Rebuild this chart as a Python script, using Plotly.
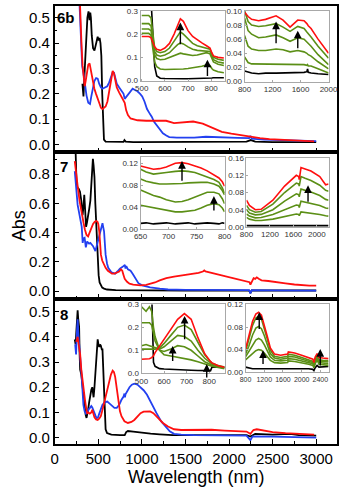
import plotly.graph_objects as go

W, H = 349, 496
def fx(p): return p / W
def fy(p): return 1 - p / H

BLACK = '#000000'; RED = '#ff0f0f'; BLUE = '#2340f0'; GREEN = '#5b8f16'

# ================= Panel 6b (top) main =================
wl_6b_k = [318, 330, 345, 360, 375, 388, 395, 400, 408, 415, 425, 440, 456, 470, 485, 493, 505, 515, 525, 535, 545, 555, 565, 584, 700, 790, 800, 815, 900, 1000, 1500, 2000, 2200, 2250, 2300, 2500, 3000]
ab_6b_k = [0.24, 0.19, 0.30, 0.42, 0.50, 0.525, 0.51, 0.49, 0.52, 0.50, 0.43, 0.38, 0.37, 0.39, 0.42, 0.425, 0.41, 0.42, 0.40, 0.35, 0.20, 0.06, 0.02, 0.012, 0.01, 0.011, 0.018, 0.012, 0.01, 0.01, 0.012, 0.012, 0.012, 0.018, 0.012, 0.01, 0.01]
wl_6b_r = [285, 295, 308, 320, 335, 344, 355, 370, 385, 400, 410, 420, 438, 455, 474, 490, 510, 530, 548, 565, 584, 605, 625, 645, 665, 680, 695, 712, 740, 766, 790, 803, 820, 840, 870, 894, 950, 1050, 1150, 1278, 1369, 1478, 1588, 1698, 1807, 1917, 2026, 2136, 2245, 2355, 2464, 2647, 2800, 2976]
ab_6b_r = [0.60, 0.48, 0.39, 0.31, 0.25, 0.23, 0.25, 0.29, 0.315, 0.32, 0.30, 0.28, 0.26, 0.22, 0.20, 0.18, 0.165, 0.145, 0.14, 0.145, 0.15, 0.17, 0.21, 0.26, 0.29, 0.28, 0.255, 0.225, 0.205, 0.19, 0.175, 0.165, 0.135, 0.116, 0.103, 0.10, 0.096, 0.094, 0.094, 0.094, 0.085, 0.087, 0.091, 0.083, 0.066, 0.05, 0.043, 0.037, 0.03, 0.026, 0.022, 0.019, 0.016, 0.013]
wl_6b_b = [285, 300, 315, 329, 345, 365, 385, 405, 420, 438, 455, 475, 493, 510, 530, 548, 575, 603, 625, 645, 665, 680, 695, 712, 740, 766, 790, 803, 815, 840, 870, 894, 920, 949, 980, 1004, 1030, 1059, 1085, 1113, 1140, 1168, 1205, 1241, 1280, 1314, 1400, 1600, 1734, 1900, 2100, 2230, 2245, 2260, 2400, 2600, 2800, 3000]
ab_6b_b = [0.55, 0.40, 0.31, 0.283, 0.24, 0.193, 0.165, 0.16, 0.19, 0.22, 0.25, 0.262, 0.26, 0.24, 0.225, 0.22, 0.225, 0.23, 0.245, 0.265, 0.285, 0.283, 0.265, 0.24, 0.225, 0.21, 0.2, 0.18, 0.185, 0.2, 0.21, 0.22, 0.215, 0.21, 0.2, 0.19, 0.17, 0.14, 0.125, 0.11, 0.09, 0.077, 0.06, 0.045, 0.036, 0.03, 0.028, 0.028, 0.031, 0.028, 0.027, 0.026, 0.034, 0.024, 0.02, 0.018, 0.016, 0.014]

# ================= Panel 7 (middle) main =================
wl_7_k = [226, 240, 250, 260, 275, 290, 305, 312, 320, 330, 339, 345, 352, 360, 370, 383, 395, 409, 420, 430, 438, 446, 456, 466, 474, 480, 485, 495, 504, 515, 529, 545, 566, 600, 700, 1000, 1500, 2000, 2230, 2245, 2260, 2500, 3000]
ab_7_k = [0.99, 0.95, 0.75, 0.71, 0.70, 0.68, 0.62, 0.55, 0.52, 0.58, 0.66, 0.60, 0.47, 0.44, 0.47, 0.51, 0.56, 0.62, 0.75, 0.86, 0.905, 0.86, 0.78, 0.60, 0.50, 0.38, 0.31, 0.20, 0.11, 0.06, 0.04, 0.025, 0.018, 0.012, 0.008, 0.006, 0.005, 0.005, 0.004, -0.012, 0.006, 0.005, 0.005]
wl_7_r = [230, 245, 263, 285, 300, 315, 330, 347, 365, 383, 400, 420, 440, 460, 475, 490, 500, 511, 520, 530, 545, 560, 584, 610, 630, 657, 685, 712, 740, 760, 775, 790, 803, 830, 858, 900, 985, 1050, 1095, 1150, 1205, 1280, 1369, 1450, 1552, 1650, 1700, 1716, 1730, 1800, 1917, 2000, 2100, 2200, 2235, 2245, 2258, 2282, 2300, 2318, 2340, 2373, 2450, 2501, 2580, 2647, 2750, 2830, 2920, 3000]
ab_7_r = [0.89, 0.80, 0.72, 0.62, 0.56, 0.52, 0.47, 0.42, 0.385, 0.375, 0.40, 0.43, 0.46, 0.475, 0.48, 0.475, 0.46, 0.41, 0.33, 0.25, 0.21, 0.19, 0.16, 0.14, 0.13, 0.12, 0.12, 0.125, 0.135, 0.15, 0.14, 0.11, 0.085, 0.065, 0.052, 0.045, 0.04, 0.043, 0.05, 0.06, 0.074, 0.09, 0.10, 0.106, 0.114, 0.125, 0.135, 0.142, 0.135, 0.125, 0.107, 0.097, 0.085, 0.07, 0.062, 0.045, 0.06, 0.09, 0.085, 0.095, 0.085, 0.075, 0.07, 0.065, 0.06, 0.054, 0.046, 0.04, 0.038, 0.038]
wl_7_b = [230, 245, 263, 285, 300, 310, 321, 329, 343, 357, 372, 394, 409, 438, 467, 493, 511, 529, 548, 556, 566, 575, 584, 600, 614, 650, 694, 720, 748, 775, 796, 805, 812, 821, 840, 870, 894, 912, 931, 960, 1004, 1050, 1095, 1205, 1300, 1500, 2000, 2230, 2245, 2260, 2500, 3000]
ab_7_b = [0.82, 0.72, 0.59, 0.52, 0.48, 0.44, 0.33, 0.36, 0.365, 0.30, 0.34, 0.325, 0.33, 0.31, 0.275, 0.33, 0.37, 0.42, 0.465, 0.44, 0.41, 0.33, 0.25, 0.19, 0.16, 0.13, 0.12, 0.135, 0.155, 0.165, 0.172, 0.18, 0.155, 0.172, 0.15, 0.14, 0.12, 0.10, 0.077, 0.055, 0.04, 0.033, 0.027, 0.018, 0.012, 0.009, 0.008, 0.007, -0.015, 0.007, 0.006, 0.004]

# ================= Panel 8 (bottom) main =================
wl_8_k = [230, 240, 248, 256, 263, 270, 280, 286, 292, 305, 318, 329, 340, 355, 365, 375, 383, 395, 409, 420, 431, 440, 446, 456, 467, 480, 493, 502, 511, 520, 529, 540, 548, 556, 566, 575, 584, 600, 650, 750, 803, 820, 840, 900, 985, 1100, 1205, 1350, 1600, 2000, 2200, 2245, 2300, 2500, 2700, 2800, 3000]
ab_8_k = [0.39, 0.37, 0.42, 0.48, 0.505, 0.47, 0.44, 0.33, 0.27, 0.25, 0.20, 0.16, 0.13, 0.09, 0.078, 0.09, 0.11, 0.14, 0.18, 0.19, 0.20, 0.18, 0.16, 0.20, 0.25, 0.32, 0.39, 0.37, 0.36, 0.37, 0.365, 0.35, 0.35, 0.28, 0.20, 0.10, 0.033, 0.018, 0.012, 0.01, 0.01, 0.022, 0.026, 0.024, 0.02, 0.016, 0.013, 0.01, 0.01, 0.01, 0.01, 0.004, 0.015, 0.012, 0.015, 0.01, 0.008]
wl_8_r = [248, 263, 275, 292, 305, 321, 335, 347, 360, 372, 385, 402, 420, 431, 440, 456, 475, 493, 510, 529, 548, 566, 590, 621, 645, 665, 680, 694, 712, 730, 748, 766, 800, 840, 880, 913, 950, 985, 1020, 1059, 1095, 1132, 1180, 1241, 1300, 1369, 1450, 1550, 1650, 1734, 1800, 1950, 2099, 2200, 2245, 2280, 2318, 2400, 2500, 2647, 2800, 2976]
ab_8_r = [0.38, 0.40, 0.37, 0.33, 0.27, 0.214, 0.17, 0.15, 0.12, 0.095, 0.10, 0.095, 0.10, 0.11, 0.10, 0.08, 0.072, 0.07, 0.075, 0.085, 0.11, 0.136, 0.17, 0.214, 0.25, 0.266, 0.26, 0.24, 0.19, 0.136, 0.105, 0.085, 0.065, 0.058, 0.062, 0.07, 0.085, 0.097, 0.103, 0.105, 0.104, 0.097, 0.08, 0.058, 0.044, 0.033, 0.03, 0.03, 0.031, 0.033, 0.031, 0.028, 0.026, 0.024, 0.015, 0.03, 0.033, 0.028, 0.022, 0.018, 0.014, 0.012]
wl_8_b = [235, 245, 255, 263, 270, 280, 292, 310, 320, 329, 343, 358, 370, 383, 396, 409, 420, 431, 445, 456, 470, 482, 496, 511, 530, 548, 575, 603, 630, 657, 685, 712, 740, 766, 790, 800, 806, 812, 830, 858, 885, 913, 950, 985, 1020, 1059, 1100, 1140, 1168, 1220, 1278, 1320, 1369, 1450, 1600, 1800, 2000, 2200, 2245, 2270, 2500, 2700, 2800, 3000]
ab_8_b = [0.37, 0.33, 0.42, 0.47, 0.42, 0.36, 0.32, 0.24, 0.17, 0.13, 0.105, 0.095, 0.10, 0.11, 0.115, 0.12, 0.125, 0.12, 0.105, 0.095, 0.085, 0.077, 0.08, 0.095, 0.115, 0.13, 0.14, 0.143, 0.135, 0.125, 0.118, 0.118, 0.13, 0.15, 0.163, 0.175, 0.16, 0.172, 0.185, 0.20, 0.21, 0.214, 0.21, 0.20, 0.188, 0.17, 0.14, 0.115, 0.097, 0.065, 0.039, 0.025, 0.015, 0.012, 0.01, 0.01, 0.008, 0.008, -0.01, 0.005, 0.004, 0.003, 0.0, 0.0]

# ================= Inset 6b-A (500-860 nm) =================
wl_6a = [500, 530, 540, 548, 556, 565, 580, 600, 620, 640, 655, 667, 680, 700, 720, 740, 760, 780, 795, 803, 810, 830, 855]
i6a_k = [0.40, 0.40, 0.35, 0.20, 0.06, 0.02, 0.01, 0.009, 0.008, 0.008, 0.008, 0.008, 0.008, 0.008, 0.008, 0.008, 0.009, 0.010, 0.010, 0.011, 0.012, 0.012, 0.012]
i6a_r = [0.19, 0.19, 0.185, 0.165, 0.145, 0.135, 0.13, 0.14, 0.16, 0.20, 0.24, 0.266, 0.255, 0.215, 0.19, 0.175, 0.162, 0.15, 0.14, 0.12, 0.106, 0.10, 0.097]
i6a_g1 = [0.28, 0.28, 0.27, 0.20, 0.14, 0.125, 0.12, 0.125, 0.14, 0.17, 0.195, 0.21, 0.20, 0.18, 0.16, 0.15, 0.145, 0.14, 0.135, 0.115, 0.10, 0.092, 0.087]
i6a_g2 = [0.245, 0.245, 0.235, 0.18, 0.125, 0.11, 0.105, 0.11, 0.12, 0.14, 0.155, 0.162, 0.158, 0.145, 0.135, 0.13, 0.128, 0.128, 0.125, 0.105, 0.09, 0.08, 0.075]
i6a_g3 = [0.222, 0.222, 0.215, 0.16, 0.11, 0.095, 0.09, 0.092, 0.10, 0.11, 0.115, 0.118, 0.115, 0.11, 0.108, 0.11, 0.115, 0.12, 0.115, 0.095, 0.08, 0.07, 0.065]
i6a_g4 = [0.203, 0.203, 0.195, 0.14, 0.08, 0.06, 0.05, 0.048, 0.048, 0.048, 0.048, 0.048, 0.05, 0.052, 0.055, 0.058, 0.062, 0.068, 0.065, 0.052, 0.045, 0.038, 0.034]

# ================= Inset 6b-B (800-2000 nm) =================
wl_6b = [800, 850, 900, 1000, 1100, 1250, 1350, 1450, 1560, 1650, 1690, 1700, 1710, 1750, 1850, 2000]
i6b_k = [0.015, 0.013, 0.012, 0.011, 0.012, 0.012, 0.012, 0.012, 0.012, 0.013, 0.014, 0.018, 0.013, 0.012, 0.011, 0.01]
i6b_r = [0.098, 0.092, 0.088, 0.086, 0.088, 0.093, 0.087, 0.077, 0.087, 0.086, 0.082, 0.08, 0.079, 0.075, 0.06, 0.04]
i6b_g1 = [0.10, 0.085, 0.080, 0.078, 0.079, 0.082, 0.077, 0.071, 0.078, 0.075, 0.07, 0.069, 0.068, 0.063, 0.05, 0.033]
i6b_g2 = [0.09, 0.072, 0.067, 0.062, 0.063, 0.066, 0.062, 0.057, 0.062, 0.06, 0.056, 0.055, 0.054, 0.05, 0.038, 0.024]
i6b_g3 = [0.065, 0.05, 0.046, 0.044, 0.044, 0.046, 0.045, 0.042, 0.044, 0.042, 0.04, 0.039, 0.038, 0.036, 0.028, 0.018]
i6b_g4 = [0.035, 0.027, 0.025, 0.025, 0.025, 0.025, 0.025, 0.024, 0.024, 0.024, 0.023, 0.024, 0.022, 0.022, 0.018, 0.012]

# ================= Inset 7-A (650-800 nm) =================
wl_7a = [650, 660, 673, 684, 696, 712, 724, 735, 747, 758, 769, 781, 790, 796, 800]
i7a_k = [0.01, 0.011, 0.009, 0.01, 0.011, 0.009, 0.01, 0.011, 0.009, 0.01, 0.011, 0.01, 0.009, 0.011, 0.01]
i7a_r = [0.115, 0.112, 0.109, 0.110, 0.113, 0.12, 0.121, 0.119, 0.115, 0.111, 0.106, 0.099, 0.093, 0.086, 0.078]
i7a_g1 = [0.109, 0.104, 0.100, 0.101, 0.103, 0.105, 0.106, 0.105, 0.103, 0.099, 0.095, 0.09, 0.085, 0.075, 0.065]
i7a_g2 = [0.091, 0.087, 0.084, 0.082, 0.082, 0.082, 0.083, 0.084, 0.085, 0.085, 0.085, 0.082, 0.078, 0.07, 0.062]
i7a_g3 = [0.071, 0.066, 0.061, 0.058, 0.053, 0.049, 0.05, 0.053, 0.058, 0.063, 0.067, 0.067, 0.064, 0.055, 0.046]
i7a_g4 = [0.043, 0.041, 0.039, 0.037, 0.034, 0.031, 0.031, 0.032, 0.034, 0.038, 0.043, 0.046, 0.044, 0.038, 0.031]

# ================= Inset 7-B (800-2200 nm) =================
wl_7b = [800, 850, 950, 1050, 1250, 1450, 1650, 1690, 1700, 1730, 1800, 1900, 2050, 2150, 2200]
i7b_k = [0.003, 0.003, 0.003, 0.003, 0.003, 0.003, 0.003, 0.003, 0.003, 0.003, 0.003, 0.003, 0.003, 0.003, 0.003]
i7b_r = [0.062, 0.05, 0.04, 0.041, 0.062, 0.095, 0.12, 0.117, 0.11, 0.138, 0.135, 0.13, 0.117, 0.098, 0.10]
i7b_g1 = [0.05, 0.04, 0.034, 0.036, 0.053, 0.08, 0.102, 0.10, 0.095, 0.117, 0.113, 0.108, 0.097, 0.085, 0.083]
i7b_g2 = [0.04, 0.032, 0.028, 0.029, 0.04, 0.06, 0.077, 0.075, 0.07, 0.088, 0.085, 0.081, 0.073, 0.064, 0.062]
i7b_g3 = [0.03, 0.025, 0.021, 0.022, 0.029, 0.04, 0.051, 0.05, 0.045, 0.06, 0.058, 0.055, 0.05, 0.044, 0.043]
i7b_g4 = [0.022, 0.018, 0.015, 0.015, 0.018, 0.024, 0.03, 0.029, 0.026, 0.035, 0.034, 0.032, 0.029, 0.026, 0.025]

# ================= Inset 8-A (500-870 nm) =================
wl_8a = [500, 520, 535, 545, 553, 560, 580, 600, 630, 660, 690, 720, 750, 780, 806, 812, 840, 868]
i8a_k = [0.40, 0.40, 0.40, 0.35, 0.047, 0.03, 0.02, 0.018, 0.016, 0.015, 0.014, 0.013, 0.012, 0.011, 0.011, 0.026, 0.026, 0.026]
i8a_r = [0.061, 0.061, 0.063, 0.068, 0.076, 0.09, 0.12, 0.15, 0.19, 0.235, 0.26, 0.235, 0.155, 0.085, 0.05, 0.045, 0.032, 0.026]
i8a_g1 = [0.105, 0.105, 0.105, 0.105, 0.105, 0.105, 0.11, 0.13, 0.165, 0.20, 0.21, 0.19, 0.135, 0.08, 0.05, 0.045, 0.033, 0.027]
i8a_g2 = [0.12, 0.125, 0.12, 0.117, 0.114, 0.11, 0.105, 0.115, 0.14, 0.165, 0.16, 0.14, 0.10, 0.065, 0.045, 0.04, 0.03, 0.025]
i8a_g3 = [0.22, 0.22, 0.22, 0.21, 0.17, 0.14, 0.10, 0.095, 0.105, 0.12, 0.115, 0.10, 0.075, 0.05, 0.038, 0.035, 0.027, 0.023]
i8a_g4 = [0.29, 0.27, 0.29, 0.27, 0.20, 0.16, 0.10, 0.08, 0.075, 0.07, 0.065, 0.058, 0.05, 0.04, 0.032, 0.03, 0.025, 0.02]

# ================= Inset 8-B (800-2575 nm) =================
wl_8b = [800, 870, 950, 1020, 1080, 1140, 1200, 1260, 1330, 1420, 1550, 1700, 1715, 1850, 2000, 2150, 2240, 2262, 2290, 2330, 2370, 2450, 2575]
i8b_k = [0.009, 0.007, 0.006, 0.006, 0.006, 0.006, 0.006, 0.006, 0.006, 0.006, 0.006, 0.006, 0.007, 0.006, 0.006, 0.006, 0.005, 0.003, 0.008, 0.012, 0.009, 0.009, 0.01]
i8b_r = [0.041, 0.062, 0.09, 0.103, 0.106, 0.101, 0.085, 0.065, 0.043, 0.032, 0.030, 0.032, 0.036, 0.034, 0.03, 0.026, 0.023, 0.017, 0.027, 0.033, 0.026, 0.025, 0.024]
i8b_g1 = [0.036, 0.056, 0.083, 0.096, 0.099, 0.094, 0.079, 0.06, 0.039, 0.028, 0.026, 0.028, 0.032, 0.03, 0.026, 0.022, 0.019, 0.014, 0.024, 0.03, 0.022, 0.021, 0.02]
i8b_g2 = [0.032, 0.046, 0.066, 0.078, 0.081, 0.077, 0.065, 0.05, 0.033, 0.025, 0.023, 0.025, 0.028, 0.027, 0.023, 0.02, 0.017, 0.012, 0.021, 0.027, 0.02, 0.019, 0.018]
i8b_g3 = [0.027, 0.036, 0.048, 0.057, 0.06, 0.057, 0.049, 0.038, 0.027, 0.021, 0.02, 0.021, 0.024, 0.023, 0.02, 0.017, 0.015, 0.01, 0.018, 0.025, 0.017, 0.016, 0.015]
i8b_g4 = [0.022, 0.027, 0.033, 0.038, 0.04, 0.039, 0.034, 0.028, 0.021, 0.017, 0.016, 0.017, 0.02, 0.019, 0.017, 0.014, 0.012, 0.008, 0.015, 0.022, 0.014, 0.013, 0.012]

# arrows: (x, y_tail, y_head)
arr_6a = [(667, 0.15, 0.25), (784, 0.013, 0.09)]
arr_6b = [(1250, 0.052, 0.085), (1560, 0.045, 0.072)]
arr_7a = [(724, 0.085, 0.124), (781, 0.031, 0.06)]
arr_7b = [(1850, 0.055, 0.097)]
arr_8a = [(691, 0.142, 0.25), (638, 0.047, 0.119), (789, -0.025, 0.04)]
arr_8b = [(1093, 0.074, 0.106), (1174, 0.012, 0.039), (2398, 0.009, 0.041)]

panel_labels = ['6b', '7', '8']

fig = go.Figure()

def add(x, y, color, ax, w=1.8):
    fig.add_trace(go.Scatter(x=x, y=y, mode='lines', line=dict(color=color, width=w),
                             xaxis='x' + ax, yaxis='y' + ax, showlegend=False, hoverinfo='skip'))

# main panels: axes 3 = top (6b), 2 = middle (7), '' = bottom (8)
for ax, data in [('3', [(wl_6b_k, ab_6b_k, BLACK), (wl_6b_b, ab_6b_b, BLUE), (wl_6b_r, ab_6b_r, RED)]),
                 ('2', [(wl_7_k, ab_7_k, BLACK), (wl_7_b, ab_7_b, BLUE), (wl_7_r, ab_7_r, RED)]),
                 ('',  [(wl_8_k, ab_8_k, BLACK), (wl_8_b, ab_8_b, BLUE), (wl_8_r, ab_8_r, RED)])]:
    for x, y, c in data:
        add(x, y, c, ax)

insets = [
    ('4', wl_6a, i6a_k, [i6a_g4, i6a_g3, i6a_g2, i6a_g1], i6a_r),
    ('5', wl_6b, i6b_k, [i6b_g4, i6b_g3, i6b_g2, i6b_g1], i6b_r),
    ('6', wl_7a, i7a_k, [i7a_g4, i7a_g3, i7a_g2, i7a_g1], i7a_r),
    ('7', wl_7b, i7b_k, [i7b_g4, i7b_g3, i7b_g2, i7b_g1], i7b_r),
    ('8', wl_8a, i8a_k, [i8a_g4, i8a_g3, i8a_g2, i8a_g1], i8a_r),
    ('9', wl_8b, i8b_k, [i8b_g4, i8b_g3, i8b_g2, i8b_g1], i8b_r),
]
for ax, wl, k, gs, r in insets:
    add(wl, k, BLACK, ax, 1.6)
    for g in gs:
        add(wl, g, GREEN, ax, 1.6)
    add(wl, r, RED, ax, 1.6)

FONT = 'Arial'
main_x = dict(domain=[fx(50), fx(346)], range=[0, 3240], showline=True, linecolor='black', linewidth=1.5,
              mirror=True, ticks='inside', ticklen=5, tickwidth=1.2, tickcolor='black', dtick=500, tick0=0,
              minor=dict(ticks='inside', ticklen=3, dtick=250, tickcolor='black'),
              showgrid=False, zeroline=False, tickfont=dict(family=FONT, size=15, color='black'))

def main_y(dom, rng, dt, mdt, fmt):
    return dict(domain=dom, range=rng, showline=True, linecolor='black', linewidth=1.5, mirror=True,
                ticks='inside', ticklen=5, tickwidth=1.2, tickcolor='black', dtick=dt, tick0=0, tickformat=fmt,
                minor=dict(ticks='inside', ticklen=3, dtick=mdt, tickcolor='black'),
                showgrid=False, zeroline=False, tickfont=dict(family=FONT, size=15, color='black'))

layout = dict(width=W, height=H, margin=dict(l=0, r=0, t=0, b=0), autosize=False,
              paper_bgcolor='white', plot_bgcolor='white', showlegend=False)

layout['xaxis'] = dict(main_x, anchor='y')
layout['xaxis2'] = dict(main_x, anchor='y2', showticklabels=False)
layout['xaxis3'] = dict(main_x, anchor='y3', showticklabels=False)
layout['yaxis'] = dict(main_y([fy(448), fy(300)], [-0.025, 0.552], 0.1, 0.05, '.1f'), anchor='x')
layout['yaxis2'] = dict(main_y([fy(300), fy(151)], [-0.05, 0.95], 0.2, 0.1, '.1f'), anchor='x2')
layout['yaxis3'] = dict(main_y([fy(151), fy(2)], [-0.03, 0.546], 0.1, 0.05, '.1f'), anchor='x3')

def inset_axes(n, xdom, ydom, xr, yr, xt, yt, yfmt, xfs=8):
    tf = dict(family=FONT, size=8, color='#333333')
    layout['xaxis' + n] = dict(domain=[fx(xdom[0]), fx(xdom[1])], range=xr, anchor='y' + n, showline=True,
                               linecolor='#a8a8a8', linewidth=1, mirror=True, ticks='inside', ticklen=2,
                               tickcolor='#a8a8a8', tickvals=xt, showgrid=False, zeroline=False, tickangle=0,
                               tickfont=dict(family=FONT, size=xfs, color='#333333'))
    layout['yaxis' + n] = dict(domain=[fy(ydom[1]), fy(ydom[0])], range=yr, anchor='x' + n, showline=True,
                               linecolor='#a8a8a8', linewidth=1, mirror=True, ticks='inside', ticklen=2,
                               tickcolor='#a8a8a8', tickvals=yt, tickformat=yfmt, showgrid=False,
                               zeroline=False, tickfont=tf)

inset_axes('4', (140, 228), (7, 78), [495, 858], [0, 0.3], [500, 600, 700, 800], [0, 0.1, 0.2, 0.3], '.1f')
inset_axes('5', (249, 337), (7, 79), [800, 2000], [0, 0.1], [800, 1200, 1600, 2000], [0, 0.02, 0.04, 0.06, 0.08, 0.10], '.2f')
inset_axes('6', (140, 228), (156, 229), [650, 800], [0, 0.131], [650, 700, 750, 800], [0, 0.04, 0.08, 0.12], '.2f')
inset_axes('7', (251, 337), (157, 227), [800, 2200], [0, 0.16], [800, 1200, 1600, 2000], [0, 0.04, 0.08, 0.12, 0.16], '.2f')
inset_axes('8', (141, 228), (306, 376), [500, 868], [0, 0.3], [500, 600, 700, 800], [0, 0.1, 0.2, 0.3], '.1f')
inset_axes('9', (250, 337), (306, 375), [800, 2575], [0, 0.12], [800, 1200, 1600, 2000, 2400], [0, 0.04, 0.08, 0.12], '.2f', xfs=7)

ann = []
for n, arrs in [('4', arr_6a), ('5', arr_6b), ('6', arr_7a), ('7', arr_7b), ('8', arr_8a), ('9', arr_8b)]:
    for x, y0, y1 in arrs:
        ann.append(dict(x=x, y=y1, ax=x, ay=y0, xref='x' + n, yref='y' + n, axref='x' + n, ayref='y' + n,
                        text='', showarrow=True, arrowhead=2, arrowsize=1.1, arrowwidth=1.4, arrowcolor='black'))

for lab, (px, py) in zip(panel_labels, [(62, 14), (60, 166), (60, 316)]):
    ann.append(dict(x=fx(px), y=fy(py), xref='paper', yref='paper', text='<b>%s</b>' % lab, showarrow=False,
                    font=dict(family=FONT, size=15, color='black'), xanchor='center', yanchor='middle'))

ann.append(dict(x=fx(198), y=fy(482), xref='paper', yref='paper', text='Wavelength (nm)', showarrow=False,
                font=dict(family=FONT, size=18, color='black'), xanchor='center', yanchor='middle'))
ann.append(dict(x=fx(12), y=fy(226), xref='paper', yref='paper', text='Abs', showarrow=False, textangle=-90,
                font=dict(family=FONT, size=18, color='black'), xanchor='center', yanchor='middle'))
layout['annotations'] = ann

fig.update_layout(**layout)
fig.write_html('out.html')
